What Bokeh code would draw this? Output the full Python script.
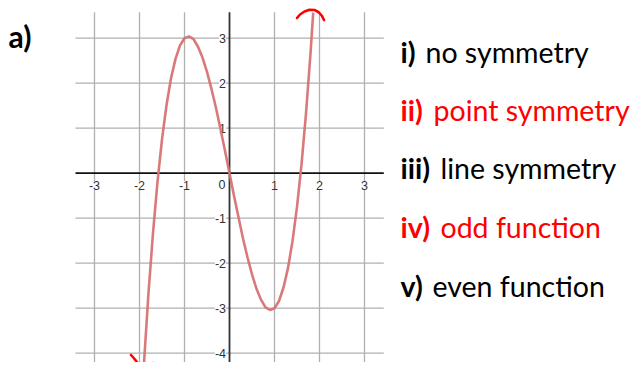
from bokeh.plotting import figure
from bokeh.models import Range1d, ColumnDataSource
from bokeh.core.properties import value
from bokeh.embed import file_html
from bokeh.resources import INLINE

# ---- data ----
curve_x = [-1.95, -1.9, -1.8, -1.7, -1.6, -1.5, -1.4, -1.3, -1.2, -1.1, -1.0,
           -0.9, -0.8, -0.7, -0.6, -0.5, -0.4, -0.3, -0.2, -0.1, 0.0,
           0.1, 0.2, 0.3, 0.4, 0.5, 0.6, 0.7, 0.8, 0.9, 1.0,
           1.1, 1.2, 1.3, 1.4, 1.5, 1.6, 1.7, 1.8, 1.86]
curve_y = [-5.08, -4.22, -2.66, -1.33, -0.19, 0.75, 1.51, 2.11, 2.54, 2.84, 3.0,
           3.04, 2.98, 2.81, 2.57, 2.25, 1.87, 1.45, 0.98, 0.50, 0.0,
           -0.50, -0.98, -1.45, -1.87, -2.25, -2.57, -2.81, -2.98, -3.04, -3.0,
           -2.84, -2.54, -2.11, -1.51, -0.75, 0.19, 1.33, 2.66, 3.57]

x_ticks = [-3, -2, -1, 1, 2, 3]
x_tick_labels = ["-3", "-2", "-1", "1", "2", "3"]
y_ticks = [-4, -3, -2, -1, 1, 2, 3]
y_tick_labels = ["-4", "-3", "-2", "-1", "1", "2", "3"]

# hand-drawn red arrow marks (data units)
arrow_up_x = [1.5, 1.567, 1.667, 1.778, 1.889, 1.989, 2.056, 2.1]
arrow_up_y = [3.449, 3.527, 3.593, 3.631, 3.627, 3.571, 3.493, 3.404]
arrow_down_left_x = [-2.189, -2.1, -2.067, -1.944]
arrow_down_left_y = [-4.04, -4.14, -4.184, -4.396]
arrow_down_right_x = [-1.689, -1.844, -1.944]
arrow_down_right_y = [-4.218, -4.296, -4.396]

option_keys = ["i)", "ii)", "iii)", "iv)", "v)"]
option_texts = ["no symmetry", "point symmetry", "line symmetry", "odd function", "even function"]
option_colors = ["black", "red", "black", "red", "black"]

# ---- layout helpers (screen pixels -> data units) ----
X0, Y0, UNIT = 229.0, 172.7, 45.0
def px_x(px):
    return (px - X0) / UNIT
def px_y(py):
    return (Y0 - py) / UNIT

W, H = 634, 362
p = figure(width=W, height=H, output_backend="svg", toolbar_location=None,
           x_range=Range1d(px_x(0), px_x(W)), y_range=Range1d(px_y(H), px_y(0)),
           x_axis_location=None, y_axis_location=None, min_border=0)
p.grid.visible = False
p.outline_line_color = None
p.background_fill_color = "white"
p.border_fill_color = "white"

grid_left, grid_right = px_x(75), px_x(383.3)
grid_top, grid_bottom = px_y(11.7), px_y(380)
grid_color = "#b0b0b0"

# grid lines
p.segment(x0=x_ticks, x1=x_ticks, y0=[grid_top] * len(x_ticks), y1=[grid_bottom] * len(x_ticks),
          line_color=grid_color, line_width=1.3)
p.segment(x0=[grid_left] * len(y_ticks), x1=[grid_right] * len(y_ticks), y0=y_ticks, y1=y_ticks,
          line_color=grid_color, line_width=1.3)

# axes
p.segment(x0=[grid_left], x1=[grid_right], y0=[0], y1=[0], line_color="#111111", line_width=1.8)
p.segment(x0=[0], x1=[0], y0=[grid_top], y1=[grid_bottom], line_color="#333333", line_width=1.8)

# tick labels
tick_font = value("Liberation Sans")
p.text(x=x_ticks, y=[px_y(185)] * len(x_ticks), text=x_tick_labels,
       text_font=tick_font, text_font_size="12.5px", text_color="#333333",
       text_align="center", text_baseline="middle", background_fill_color="white")
p.text(x=[px_x(221.5)], y=[px_y(184)], text=["0"],
       text_font=tick_font, text_font_size="12.5px", text_color="#333333",
       text_align="center", text_baseline="middle", background_fill_color="white")
p.text(x=[px_x(225.5)] * len(y_ticks), y=y_ticks, text=y_tick_labels,
       text_font=tick_font, text_font_size="12.5px", text_color="#333333",
       text_align="right", text_baseline="middle", background_fill_color="white")

# curve
p.line(curve_x, curve_y, line_color="#d87272", line_width=2.6, line_alpha=0.95)

# red arrow marks
p.line(arrow_up_x, arrow_up_y, line_color="#ff0000", line_width=2.6, line_cap="round", line_join="round")
p.line(arrow_down_left_x, arrow_down_left_y, line_color="#ff0000", line_width=2.6, line_cap="round", line_join="round")
p.line(arrow_down_right_x, arrow_down_right_y, line_color="#ff0000", line_width=2.6, line_cap="round", line_join="round")

# panel label
p.text(x=[px_x(8)], y=[px_y(35)], text=["a)"], text_font=value("Lato"),
       text_font_size="30px", text_font_style="bold", text_color="black",
       text_align="left", text_baseline="alphabetic")

# options
baselines = [51.7, 109.3, 167.3, 226.0, 285.0]
text_starts = [425, 433, 440, 440, 432]
src_keys = ColumnDataSource(dict(x=[px_x(400)] * 5, y=[px_y(b) for b in baselines],
                                 t=option_keys, c=option_colors))
src_txt = ColumnDataSource(dict(x=[px_x(s) for s in text_starts], y=[px_y(b) for b in baselines],
                                t=option_texts, c=option_colors))
p.text(x="x", y="y", text="t", text_color="c", source=src_keys, text_font=value("Lato"),
       text_font_size="28.5px", text_font_style="bold", text_align="left", text_baseline="alphabetic")
p.text(x="x", y="y", text="t", text_color="c", source=src_txt, text_font=value("Lato"),
       text_font_size="28.5px", text_align="left", text_baseline="alphabetic")

open("out.html", "w").write(file_html(p, INLINE))
